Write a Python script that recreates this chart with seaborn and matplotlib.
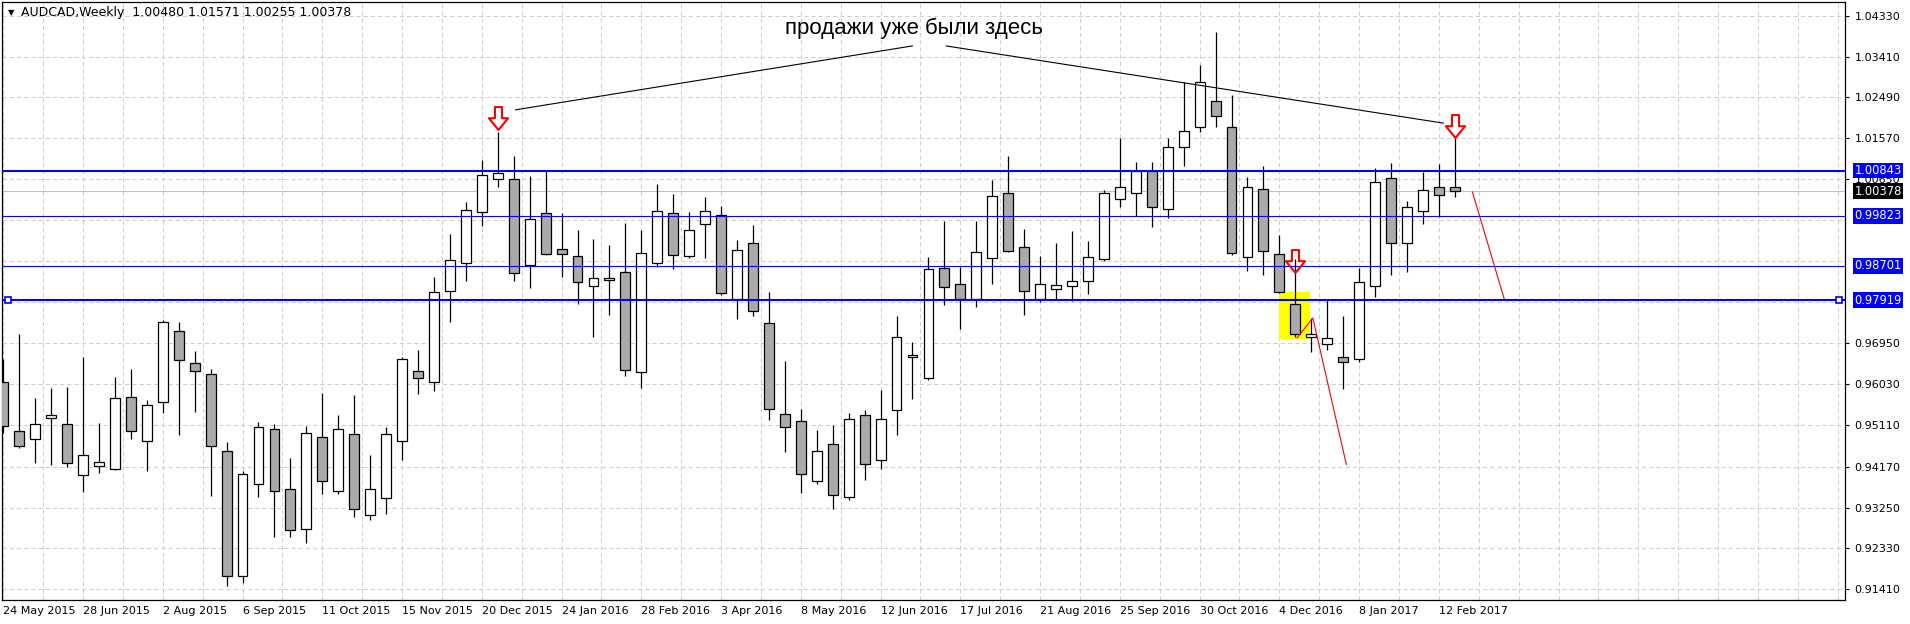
import numpy as np
import pandas as pd
import matplotlib
matplotlib.use('Agg')
import matplotlib.pyplot as plt
from matplotlib.path import Path
from matplotlib.patches import Rectangle
import seaborn as sns

# AUDCAD weekly candles, 24 May 2015 .. 19 Feb 2017
opens = [0.9609, 0.9497, 0.9480, 0.9528, 0.9513, 0.9398, 0.9418, 0.9411, 0.9574, 0.9475,
         0.9562, 0.9722, 0.9650, 0.9625, 0.9452, 0.9170, 0.9378, 0.9502, 0.9366, 0.9276,
         0.9484, 0.9362, 0.9490, 0.9308, 0.9347, 0.9475, 0.9632, 0.9607, 0.9812, 0.9875,
         0.9990, 1.0066, 1.0065, 0.9871, 0.9988, 0.9907, 0.9891, 0.9824, 0.9837, 0.9855,
         0.9630, 0.9875, 0.9988, 0.9891, 0.9963, 0.9984, 0.9794, 0.9920, 0.9740, 0.9535,
         0.9520, 0.9384, 0.9468, 0.9348, 0.9533, 0.9432, 0.9544, 0.9664, 0.9616, 0.9864,
         0.9828, 0.9794, 0.9887, 1.0033, 0.9911, 0.9796, 0.9817, 0.9824, 0.9835, 0.9884,
         1.0020, 1.0033, 1.0083, 0.9997, 1.0137, 1.0183, 1.0240, 1.0182, 0.9889, 1.0042,
         0.9896, 0.9783, 0.9709, 0.9693, 0.9664, 0.9659, 0.9825, 1.0067, 0.9920, 0.9994,
         1.0047, 1.00480]
highs = [0.9659, 0.9716, 0.9571, 0.9594, 0.9596, 0.9664, 0.9516, 0.9619, 0.9637, 0.9568,
         0.9747, 0.9743, 0.9678, 0.9637, 0.9473, 0.9408, 0.9517, 0.9513, 0.9437, 0.9509,
         0.9584, 0.9534, 0.9579, 0.9444, 0.9507, 0.9664, 0.9680, 0.9845, 0.9941, 1.0014,
         1.0108, 1.0170, 1.0118, 1.0072, 1.0086, 0.9988, 0.9950, 0.9930, 0.9917, 0.9966,
         0.9950, 1.0054, 1.0032, 0.9991, 1.0025, 1.0004, 0.9928, 0.9962, 0.9811, 0.9655,
         0.9547, 0.9499, 0.9511, 0.9538, 0.9545, 0.9590, 0.9757, 0.9698, 0.9890, 0.9971,
         0.9867, 0.9971, 1.0063, 1.0118, 0.9953, 0.9892, 0.9920, 0.9948, 0.9926, 1.0041,
         1.0158, 1.0103, 1.0103, 1.0158, 1.0284, 1.0321, 1.0396, 1.0255, 1.0069, 1.0095,
         0.9939, 0.9884, 0.9752, 0.9793, 0.9757, 0.9864, 1.0089, 1.0101, 1.0015, 1.0080,
         1.0098, 1.01571]
lows = [0.9493, 0.9460, 0.9426, 0.9422, 0.9416, 0.9361, 0.9402, 0.9410, 0.9480, 0.9408,
        0.9538, 0.9489, 0.9541, 0.9352, 0.9149, 0.9155, 0.9350, 0.9260, 0.9258, 0.9246,
        0.9356, 0.9356, 0.9305, 0.9298, 0.9311, 0.9432, 0.9582, 0.9588, 0.9744, 0.9836,
        0.9960, 1.0048, 0.9836, 0.9820, 0.9893, 0.9845, 0.9784, 0.9710, 0.9759, 0.9622,
        0.9595, 0.9868, 0.9863, 0.9887, 0.9888, 0.9804, 0.9751, 0.9757, 0.9522, 0.9451,
        0.9359, 0.9379, 0.9323, 0.9342, 0.9388, 0.9413, 0.9489, 0.9570, 0.9613, 0.9782,
        0.9728, 0.9778, 0.9829, 0.9900, 0.9760, 0.9788, 0.9794, 0.9790, 0.9807, 0.9880,
        1.0003, 0.9983, 0.9956, 0.9977, 1.0095, 1.0170, 1.0182, 0.9894, 0.9859, 0.9850,
        0.9808, 0.9710, 0.9676, 0.9679, 0.9592, 0.9654, 0.9800, 0.9849, 0.9856, 0.9963,
        0.9979, 1.00255]
closes = [0.9509, 0.9463, 0.9513, 0.9533, 0.9425, 0.9443, 0.9427, 0.9571, 0.9497, 0.9556,
          0.9743, 0.9657, 0.9632, 0.9463, 0.9170, 0.9401, 0.9507, 0.9363, 0.9274, 0.9493,
          0.9384, 0.9502, 0.9321, 0.9366, 0.9490, 0.9659, 0.9616, 0.9810, 0.9882, 0.9995,
          1.0074, 1.0078, 0.9853, 0.9975, 0.9896, 0.9896, 0.9833, 0.9842, 0.9842, 0.9634,
          0.9898, 0.9993, 0.9893, 0.9950, 0.9993, 0.9808, 0.9905, 0.9767, 0.9547, 0.9506,
          0.9400, 0.9452, 0.9353, 0.9524, 0.9423, 0.9524, 0.9709, 0.9668, 0.9862, 0.9821,
          0.9794, 0.9900, 1.0027, 0.9902, 0.9812, 0.9828, 0.9826, 0.9835, 0.9889, 1.0034,
          1.0047, 1.0083, 1.0003, 1.0137, 1.0173, 1.0283, 1.0207, 0.9898, 1.0048, 0.9902,
          0.9810, 0.9716, 0.9715, 0.9706, 0.9652, 0.9833, 1.0059, 0.9920, 1.0002, 1.0040,
          1.0029, 1.00378]

date_labels = ['24 May 2015', '28 Jun 2015', '2 Aug 2015', '6 Sep 2015', '11 Oct 2015',
               '15 Nov 2015', '20 Dec 2015', '24 Jan 2016', '28 Feb 2016', '3 Apr 2016',
               '8 May 2016', '12 Jun 2016', '17 Jul 2016', '21 Aug 2016', '25 Sep 2016',
               '30 Oct 2016', '4 Dec 2016', '8 Jan 2017', '12 Feb 2017']
# price grid; the three commented values sit behind the level boxes
grid_prices = [1.0433, 1.0341, 1.0249, 1.0157, 1.0065, 0.9973, 0.9881, 0.9789,
               0.9695, 0.9603, 0.9511, 0.9417, 0.9325, 0.9233, 0.9141]
label_prices = [1.0433, 1.0341, 1.0249, 1.0157, 1.0065,
                0.9695, 0.9603, 0.9511, 0.9417, 0.9325, 0.9233, 0.9141]

levels = [1.00843, 0.99823, 0.98701, 0.97919]
level_widths = [1.5, 0.8, 0.8, 1.5]
last_price = 1.00378

arrow_bars = [31, 81, 91]
arrow_prices = [1.0203, 0.9881, 1.0185]

trend_left_x = [32.1, 57.0]
trend_left_y = [1.0221, 1.0365]
trend_right_x = [59.1, 90.3]
trend_right_y = [1.0365, 1.0191]
red_a_x = [81.1, 82.1, 84.2]
red_a_y = [0.9707, 0.9752, 0.9422]
red_b_x = [92.1, 94.1]
red_b_y = [1.0036, 0.9795]
box_x = [80.0, 81.95]
box_y = [0.9705, 0.9810]

df = pd.DataFrame({'open': opens, 'high': highs, 'low': lows, 'close': closes})
df['x'] = np.arange(len(df))
df['up'] = df['close'] >= df['open']

sns.set_theme(style='white')
plt.rcParams['font.family'] = ['DejaVu Sans']
plt.rcParams['lines.scale_dashes'] = False

W, H = 1910, 624
fig = plt.figure(figsize=(W / 100, H / 100), dpi=100)
fig.patch.set_facecolor('white')
ax = fig.add_axes([2 / W, 24 / H, 1843 / W, 598 / H])
ax.set_facecolor('white')
ax.set_xlim(-0.08, 115.46)
ax.set_ylim(0.91170, 1.04639)

grid_kw = dict(color='#cfcfcf', lw=0.75, linestyle=(0, (3, 2.2)), zorder=1)
for gx in np.arange(0, 116, 2.5):
    ax.axvline(gx, **grid_kw)
for gy in grid_prices:
    ax.axhline(gy, **grid_kw)

# highlighted candle
ax.add_patch(Rectangle((box_x[0], box_y[0]), box_x[1] - box_x[0], box_y[1] - box_y[0],
                       facecolor='#ffff00', edgecolor='none', zorder=2))

ax.axhline(last_price, color='#c0c0c0', lw=0.8, zorder=2)

# candles
ax.vlines(df['x'], df['low'], df['high'], color='black', lw=0.9, zorder=3)
body_bottom = df[['open', 'close']].min(axis=1)
body_height = (df['close'] - df['open']).abs().clip(lower=0.00012)
ax.bar(df['x'], body_height, bottom=body_bottom, width=0.62,
       color=np.where(df['up'], 'white', '#aaaaaa'), edgecolor='black',
       linewidth=0.9, zorder=4)

# horizontal levels
for lv, lw in zip(levels, level_widths):
    ax.axhline(lv, color='#0000ff', lw=lw, zorder=6)
ax.plot([0.003, 0.997], [levels[3], levels[3]], transform=ax.get_yaxis_transform(),
        linestyle='none', marker='s', ms=4, mfc='white', mec='#0000ff', mew=1.2, zorder=7)

# trend lines and projections
ax.plot(trend_left_x, trend_left_y, color='black', lw=0.8, zorder=6)
ax.plot(trend_right_x, trend_right_y, color='black', lw=0.8, zorder=6)
ax.plot(red_a_x, red_a_y, color='#ff0000', lw=0.8, zorder=6)
ax.plot(red_b_x, red_b_y, color='#ff0000', lw=0.8, zorder=6)

# hollow down arrows
arrow_path = Path([(-3.5, 11.35), (3.5, 11.35), (3.5, 0.3), (9.5, 0.3), (0, -11.35),
                   (-9.5, 0.3), (-3.5, 0.3), (-3.5, 11.35)],
                  [Path.MOVETO] + [Path.LINETO] * 6 + [Path.CLOSEPOLY])
ax.plot(arrow_bars, arrow_prices, linestyle='none', marker=arrow_path, ms=16.5,
        mfc='none', mec='#ff0000', mew=1.5, zorder=8)

# axes
for side in ['top', 'left', 'right', 'bottom']:
    ax.spines[side].set_color('black')
    ax.spines[side].set_linewidth(0.9)
ax.set_xticks(np.arange(0, 91, 5))
ax.set_xticklabels(date_labels, ha='left', fontsize=8, color='black')
ax.yaxis.tick_right()
ax.set_yticks(label_prices)
ax.set_yticklabels([f'{v:.5f}' for v in label_prices], fontsize=8, color='black')
ax.tick_params(axis='x', direction='out', length=2.5, width=0.8, pad=2, colors='black')
ax.tick_params(axis='y', direction='out', length=2.8, width=0.8, pad=4, colors='black')

# price boxes on the scale
ytrans = ax.get_yaxis_transform()
for lv in levels:
    ax.annotate(f'{lv:.5f}', xy=(1, lv), xycoords=ytrans, xytext=(9.5, 0),
                textcoords='offset pixels', ha='left', va='center', fontsize=8.3,
                color='white', annotation_clip=False,
                bbox=dict(boxstyle='square,pad=0.12', fc='#0000ff', ec='none'), zorder=10)
ax.annotate(f'{last_price:.5f}', xy=(1, last_price), xycoords=ytrans, xytext=(9.5, 0),
            textcoords='offset pixels', ha='left', va='center', fontsize=8.3,
            color='white', annotation_clip=False,
            bbox=dict(boxstyle='square,pad=0.12', fc='black', ec='none'), zorder=10)

# header and comment
fig.text(11 / W, 1 - 12.5 / H, '\u25bc', fontsize=6, ha='center', va='center', color='black')
fig.text(21 / W, 1 - 12.5 / H, 'AUDCAD,Weekly  1.00480 1.01571 1.00255 1.00378',
         fontsize=9, ha='left', va='center', color='black')
fig.text(914 / W, 1 - 28 / H, 'продажи уже были здесь', fontsize=16,
         family=['Liberation Sans', 'DejaVu Sans'], ha='center', va='center', color='black')

fig.savefig('out.png', dpi=100)
